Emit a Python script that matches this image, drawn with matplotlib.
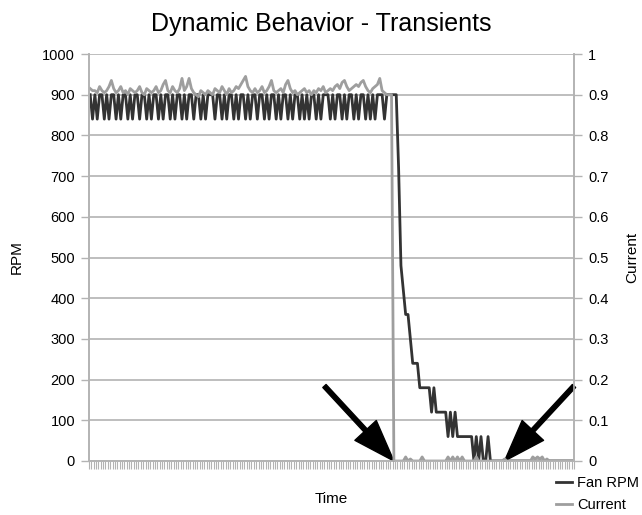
import matplotlib
matplotlib.use("Agg")
import matplotlib.pyplot as plt
import numpy as np

plt.rcParams['font.family'] = ['Liberation Sans', 'DejaVu Sans']

# Fan speed (RPM) before the supply is cut
fan_before = [
    900, 840, 900, 840, 900, 900, 840, 900, 840, 900,
    900, 840, 900, 840, 900, 900, 840, 900, 840, 900,
    900, 840, 900, 900, 840, 900, 840, 900, 900, 840,
    900, 840, 900, 900, 840, 900, 840, 900, 900, 840,
    900, 840, 900, 900, 840, 900, 900, 840, 900, 840,
    900, 900, 900, 840, 900, 900, 840, 900, 840, 900,
    900, 840, 900, 840, 900, 900, 840, 900, 840, 900,
    900, 840, 900, 900, 840, 900, 840, 900, 900, 840,
    900, 840, 900, 900, 840, 900, 840, 900, 900, 840,
    900, 840, 900, 840, 900, 900, 840, 900, 840, 900,
    900, 900, 840, 900, 840, 900, 900, 840, 900, 840,
    900, 900, 840, 900, 840, 900, 900, 840, 900, 840,
    900, 840, 900, 900, 900, 840, 900, 900, 900,
]
# Fan speed (RPM) after the supply is cut (spin-down)
fan_after = [
    900, 900, 720, 480, 420, 360, 360, 300, 240, 240, 240, 180,
    180, 180, 180, 180, 120, 180, 120, 120, 120, 120, 120, 60,
    120, 60, 120, 60, 60, 60, 60, 60, 60, 60, 0, 60,
    0, 60, 0, 0, 60, 0, 0, 0, 0, 0, 0, 0,
    0, 0, 0, 0, 0, 0, 0, 0, 0, 0, 0, 0, 0, 0, 0, 0,
    0, 0, 0, 0, 0, 0, 0, 0, 0, 0, 0, 0, 0,
]

current_before = [
    0.915, 0.91, 0.91, 0.905, 0.92, 0.91, 0.905, 0.91, 0.92, 0.935,
    0.915, 0.905, 0.91, 0.92, 0.905, 0.91, 0.90, 0.915, 0.91, 0.905,
    0.91, 0.92, 0.905, 0.90, 0.915, 0.91, 0.905, 0.91, 0.92, 0.905,
    0.91, 0.925, 0.935, 0.91, 0.905, 0.92, 0.91, 0.905, 0.915, 0.94,
    0.91, 0.92, 0.94, 0.915, 0.905, 0.90, 0.895, 0.91, 0.905, 0.90,
    0.91, 0.905, 0.90, 0.915, 0.91, 0.905, 0.92, 0.91, 0.90, 0.915,
    0.905, 0.91, 0.92, 0.915, 0.925, 0.935, 0.945, 0.92, 0.91, 0.905,
    0.915, 0.905, 0.91, 0.92, 0.905, 0.91, 0.92, 0.935, 0.91, 0.905,
    0.91, 0.915, 0.905, 0.925, 0.935, 0.915, 0.905, 0.91, 0.90, 0.905,
    0.91, 0.915, 0.905, 0.91, 0.90, 0.91, 0.905, 0.915, 0.91, 0.92,
    0.905, 0.91, 0.915, 0.91, 0.92, 0.925, 0.915, 0.93, 0.935, 0.92,
    0.91, 0.915, 0.92, 0.925, 0.92, 0.93, 0.935, 0.92, 0.91, 0.905,
    0.915, 0.92, 0.925, 0.94, 0.91, 0.905, 0.90, 0.90, 0.90,
]
current_after = [
    0, 0, 0, 0, 0, 0.01, 0, 0.005, 0, 0, 0, 0,
    0.01, 0, 0, 0, 0, 0, 0, 0, 0, 0, 0, 0.01,
    0, 0.01, 0, 0.01, 0, 0.01, 0, 0, 0, 0, 0, 0.01,
    0, 0, 0, 0, 0, 0, 0, 0, 0, 0, 0, 0.005,
    0, 0, 0, 0, 0, 0, 0, 0, 0, 0, 0, 0.01, 0.005, 0.01, 0.005, 0.01,
    0, 0.005, 0, 0, 0, 0, 0, 0, 0, 0, 0, 0, 0,
]

fan_rpm = np.array(fan_before + fan_after)
current = np.array(current_before + current_after)
t = np.arange(len(fan_rpm))

GRID = '#b3b3b3'
DARK = '#333333'
LIGHT = '#9e9e9e'

fig = plt.figure(figsize=(6.42, 5.15), dpi=100)
ax = fig.add_axes([89 / 642, 1 - 461 / 515, (574 - 89) / 642, (461 - 54) / 515])
ax2 = ax.twinx()

l1, = ax.plot(t, fan_rpm, color=DARK, lw=2.0, label='Fan RPM')
l2, = ax2.plot(t, current, color=LIGHT, lw=2.0, label='Current')

ax.set_xlim(-0.5, len(t) - 0.5)
ax.set_ylim(0, 1000)
ax.set_yticks(np.arange(0, 1001, 100))
ax2.set_ylim(0, 1)
ax2.set_yticks(np.arange(0, 1.01, 0.1))
ax2.set_yticklabels(['0'] + ['0.%d' % k for k in range(1, 10)] + ['1'])

ax.set_xticks(np.arange(-0.5, len(t), 1))
ax.set_xticklabels([])
ax.grid(axis='y', color=GRID, lw=1.2)
ax.set_axisbelow(True)

for a in (ax, ax2):
    a.spines['top'].set_visible(False)
    for s in ('left', 'right', 'bottom'):
        a.spines[s].set_color(GRID)
        a.spines[s].set_linewidth(1.2)
    a.tick_params(axis='y', length=6, width=1.0, color=GRID, labelsize=10.5, pad=4)
ax.tick_params(axis='x', length=6, width=0.8, color=GRID)

ax.set_ylabel('RPM', fontsize=11, labelpad=13)
ax2.set_ylabel('Current', fontsize=11, labelpad=12)
ax.set_xlabel('Time', fontsize=11, labelpad=13)
fig.text(0.5, 1 - 31.5 / 515, 'Dynamic Behavior - Transients', fontsize=18,
         ha='center', va='baseline')

# arrows pointing at the moments of interest
arrow = dict(facecolor='black', edgecolor='black', width=3.2, headwidth=21,
             headlength=30, shrink=0)
ax.annotate('', xy=(129, 0), xytext=(-50, 54), textcoords='offset points',
            arrowprops=arrow, annotation_clip=False)
ax.annotate('', xy=(176, 0), xytext=(50, 54), textcoords='offset points',
            arrowprops=arrow, annotation_clip=False)

fig.legend(handles=[l1, l2], loc='lower right', bbox_to_anchor=(1.0, 0.0),
           frameon=False, fontsize=10.5, handlelength=1.1, handletextpad=0.35,
           labelspacing=0.55, borderaxespad=0.0, borderpad=0.2)

fig.savefig('out.png', dpi=100)
